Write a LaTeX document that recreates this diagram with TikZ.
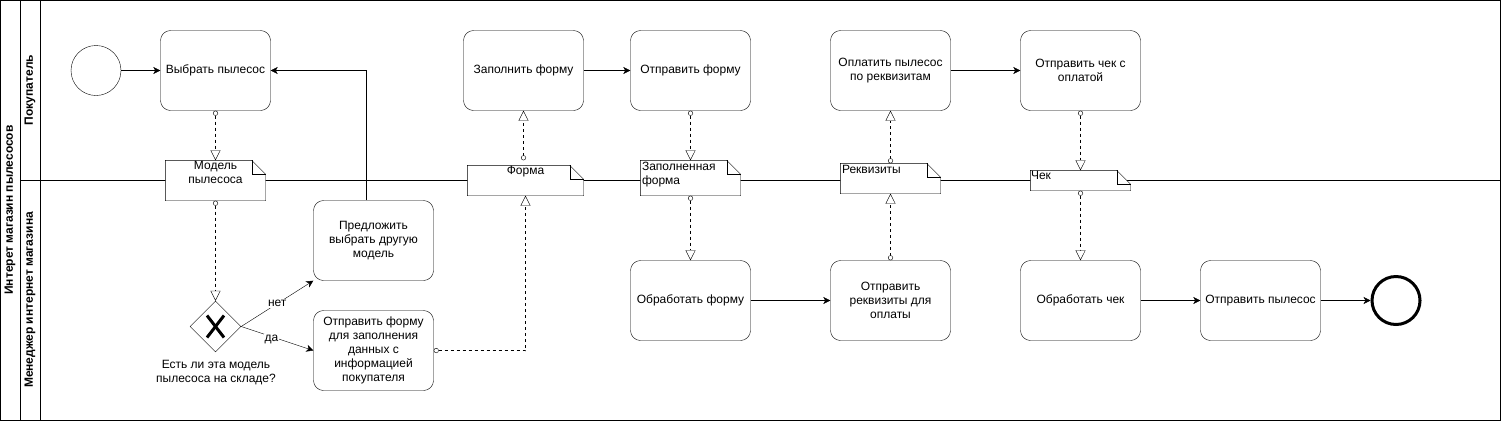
\documentclass[tikz,border=0pt]{standalone}
\usepackage{fontspec}
\setmainfont{Liberation Sans}
\usetikzlibrary{shapes.geometric,arrows.meta}
\newcommand\dataobj[6]{%
  \node[minimum width=#4bp, minimum height=#5bp, inner sep=0pt, label={#6}] (#1) at (#2,#3) {};
  \begin{pgfonlayer}{background}
  \draw[fill=white] (#1.south west) -- (#1.north west) -- ([xshift=-14bp]#1.north east) -- ([yshift=-14bp]#1.north east) -- (#1.south east) -- cycle;
  \draw ([xshift=-14bp]#1.north east) -- ([xshift=-14bp,yshift=-14bp]#1.north east) -- ([yshift=-14bp]#1.north east);
  \end{pgfonlayer}
}
\pgfdeclarelayer{background}
\pgfdeclarelayer{back}
\pgfsetlayers{back,background,main}
\begin{document}
\begin{tikzpicture}[x=1bp,y=-1bp, line width=1bp,
  every node/.style={font=\fontsize{12bp}{14bp}\selectfont},
  task/.style={draw, rounded corners=10bp, minimum width=120bp, minimum height=80bp, align=center, inner sep=2bp},
  event/.style={draw, circle, minimum size=50bp, inner sep=0pt},
  flow/.style={-{Stealth[length=7bp,width=7bp,inset=2bp]}},
  assoc/.style={dash pattern=on 3bp off 3bp, {Circle[open,length=5bp,width=5bp,fill=white]}-{Triangle[open,length=10bp,width=10bp,fill=white]}},
  lanelabel/.style={rotate=90, font=\fontsize{12bp}{14bp}\selectfont\bfseries},
  flowlabel/.style={fill=white, inner sep=1bp}
]
\useasboundingbox (0,0) rectangle (1501,421);
\begin{pgfonlayer}{back}
\draw (0.5,0.5) rectangle (1500.5,420.5);
\draw (20.5,0.5) -- (20.5,420.5);
\draw (40.5,0.5) -- (40.5,420.5);
\draw (20.5,180.5) -- (1500.5,180.5);
\end{pgfonlayer}
\node[lanelabel] (pool) at (10,210) {Интерет магазин пылесосов};
\node[lanelabel] (lane1) at (30,90) {Покупатель};
\node[lanelabel] (lane2) at (30,300) {Менеджер интернет магазина};

% buyer lane
\node[event] (start) at (96,70.5) {};
\node[task, minimum width=110bp] (t1) at (215.5,70.5) {Выбрать пылесос};
\node[task] (fill) at (523.5,70.5) {Заполнить форму};
\node[task] (send) at (690.5,70.5) {Отправить форму};
\node[task] (pay) at (890.5,70.5) {Оплатить пылесос\\по реквизитам};
\node[task] (sendcheck) at (1080.5,70.5) {Отправить чек с\\оплатой};

% manager lane
\node[task] (predl) at (373.5,240.5) {Предложить\\выбрать другую\\модель};
\node[task] (sendform) at (373.5,350.5) {Отправить форму\\для заполнения\\данных с\\информацией\\покупателя};
\node[task] (proc) at (690.5,300.5) {Обработать форму};
\node[task] (sendreq) at (890.5,300.5) {Отправить\\реквизиты для\\оплаты};
\node[task] (proccheck) at (1080.5,300.5) {Обработать чек};
\node[task] (ship) at (1260.5,300.5) {Отправить пылесос};
\node[event, line width=3bp, minimum size=48bp] (end) at (1396,300.5) {};

% gateway
\node[draw, diamond, minimum width=51bp, minimum height=51bp, inner sep=0pt, fill=white] (gw) at (215.5,326.5) {};
\draw[line width=3bp] ([xshift=-8.5bp,yshift=11bp]gw.center) -- ([xshift=8.5bp,yshift=-11bp]gw.center);
\draw[line width=3bp] ([xshift=-8.5bp,yshift=-11bp]gw.center) -- ([xshift=8.5bp,yshift=11bp]gw.center);
\node[align=center] (gwl) at (216,373) {Есть ли эта модель\\пылесоса на складе?};

% data objects
\dataobj{dm}{215.5}{180.5}{100}{40}{[anchor=north,align=center,inner sep=1bp]north:Модель\\пылесоса}
\dataobj{forma}{525.5}{180.5}{116}{30}{[anchor=north,align=center,inner sep=1bp]north:Форма}
\dataobj{filled}{690.5}{178}{100}{35}{[anchor=north west,align=left,inner sep=1.5bp]north west:Заполненная\\форма}
\dataobj{req}{890.5}{178.5}{100}{30}{[anchor=north west,align=left,inner sep=1.5bp]north west:Реквизиты}
\dataobj{chek}{1080.5}{180.5}{100}{20}{[anchor=north west,align=left,inner sep=0.5bp]north west:Чек}

% sequence flows
\draw[flow] (start) -- (t1);
\draw[flow] (fill) -- (send);
\draw[flow] (pay) -- (sendcheck);
\draw[flow] (proc) -- (sendreq);
\draw[flow] (proccheck) -- (ship);
\draw[flow] (ship) -- (end);
\draw[flow] ([xshift=-7bp]predl.north) |- (t1.east);
\draw[flow] (gw.east) -- (predl.south west) node[flowlabel, pos=0.5] {нет};
\draw[flow] (gw.east) -- (sendform.west) node[flowlabel, pos=0.42, yshift=-3bp] {да};

% associations
\draw[assoc] (t1.south) -- (dm.north);
\draw[assoc] (dm.south) -- (gw.north);
\draw[assoc] (sendform.east) -| (forma.south);
\draw[assoc] ([yshift=5bp]forma.north -| fill.south) -- (fill.south);
\draw[assoc] (send.south) -- (filled.north);
\draw[assoc] (filled.south) -- (proc.north);
\draw[assoc] (sendreq.north) -- (req.south);
\draw[assoc] (req.north) -- (pay.south);
\draw[assoc] (sendcheck.south) -- (chek.north);
\draw[assoc] (chek.south) -- (proccheck.north);
\end{tikzpicture}
\end{document}
